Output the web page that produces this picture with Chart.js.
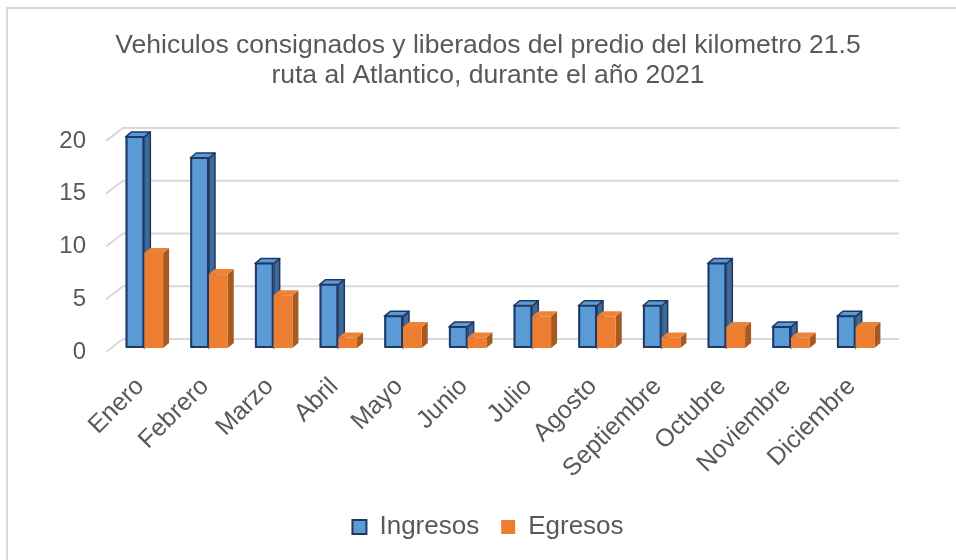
<!DOCTYPE html>
<html><head><meta charset="utf-8">
<script src="https://cdn.jsdelivr.net/npm/chart.js@4"></script>
<style>html,body{margin:0;padding:0;background:#fff}#wrap{width:956px;height:560px;position:relative}</style>
</head><body><div id="wrap"><canvas id="c" width="956" height="560"></canvas></div>
<script>
const categories = ['Enero','Febrero','Marzo','Abril','Mayo','Junio','Julio','Agosto','Septiembre','Octubre','Noviembre','Diciembre'];
const ingresos = [20,18,8,6,3,2,4,4,4,8,2,3];
const egresos = [9,7,5,1,2,1,3,3,1,2,1,2];
const yTicks = [0,5,10,15,20];
const seriesNames = ['Ingresos','Egresos'];
const titleLines = ['Vehiculos consignados y liberados del predio del kilometro 21.5','ruta al Atlantico, durante el año 2021'];

const TXT = '#595959';
const FONT = "'Liberation Sans', Arial, sans-serif";
const styles = [
  {front:'#5B9BD5', side:'#3E6A97', top:'#5B9BD5', stroke:'#1F3864', lw:2},
  {front:'#ED7D31', side:'#A65A22', top:'#EE8236', stroke:null, lw:0}
];
const DX = 6, DY = -5, SHIFT = 4;

const deco = {
  id:'deco',
  beforeDraw(chart){
    const ctx = chart.ctx;
    ctx.save();
    ctx.fillStyle = '#d9d9d9';
    ctx.fillRect(6, 7, 2, 560);
    ctx.fillRect(6, 7, 960, 2);
    ctx.restore();
  },
  beforeDatasetsDraw(chart){
    const {ctx, chartArea, scales:{y}} = chart;
    ctx.save();
    ctx.strokeStyle = '#d9d9d9'; ctx.lineWidth = 2;
    y.ticks.forEach(t => {
      const py = y.getPixelForValue(t.value);
      ctx.beginPath();
      ctx.moveTo(chartArea.left - 6, py);
      ctx.lineTo(chartArea.left + 11, py - 13);
      ctx.lineTo(chartArea.right + 11, py - 13);
      ctx.stroke();
    });
    const n = chart.data.labels.length;
    for (let j = 0; j < n; j++) {
      for (let i = 0; i < chart.data.datasets.length; i++) {
        const el = chart.getDatasetMeta(i).data[j];
        const s = styles[i];
        const l = el.x - el.width/2, r = el.x + el.width/2;
        const t = el.y - SHIFT, b = el.base - SHIFT;
        ctx.lineJoin = 'round';
        ctx.beginPath();
        ctx.moveTo(r, t); ctx.lineTo(r+DX, t+DY); ctx.lineTo(r+DX, b+DY); ctx.lineTo(r, b); ctx.closePath();
        ctx.fillStyle = s.side; ctx.fill();
        if (s.stroke) { ctx.strokeStyle = s.stroke; ctx.lineWidth = 1.5; ctx.stroke(); }
        ctx.beginPath();
        ctx.moveTo(l, t); ctx.lineTo(l+DX, t+DY); ctx.lineTo(r+DX, t+DY); ctx.lineTo(r, t); ctx.closePath();
        ctx.fillStyle = s.top; ctx.fill();
        if (s.stroke) { ctx.strokeStyle = s.stroke; ctx.lineWidth = 1.5; ctx.stroke(); }
        ctx.fillStyle = s.front;
        ctx.fillRect(l, t, r-l, b-t);
        if (s.stroke) { ctx.strokeStyle = s.stroke; ctx.lineWidth = s.lw; ctx.strokeRect(l+1, t, r-l-2, b-t-1); }
      }
    }
    ctx.restore();
    return false;
  }
};

new Chart(document.getElementById('c'), {
  type:'bar',
  data:{
    labels: categories,
    datasets:[
      {label:seriesNames[0], data:ingresos, backgroundColor:styles[0].front, borderColor:styles[0].stroke, borderWidth:2},
      {label:seriesNames[1], data:egresos, backgroundColor:styles[1].front, borderColor:styles[1].front, borderWidth:0}
    ]
  },
  options:{
    responsive:false,
    animation:false,
    devicePixelRatio:1,
    layout:{padding:{left:20, right:0, top:0, bottom:10}},
    categoryPercentage:0.58,
    barPercentage:1,
    plugins:{
      tooltip:{enabled:false},
      title:{display:true, text:titleLines, color:TXT, font:{family:FONT, size:26.5, weight:'normal', lineHeight:1.13}, padding:{top:31, bottom:50}},
      legend:{position:'bottom', labels:{color:TXT, font:{family:FONT, size:26}, boxWidth:14, boxHeight:14, padding:22}}
    },
    scales:{
      x:{
        grid:{display:false}, border:{display:false},
        ticks:{color:TXT, font:{family:FONT, size:25}, maxRotation:45, minRotation:45, padding:12, labelOffset:-4, autoSkip:false},
        afterFit(s){ s.height = 140; }
      },
      y:{
        min:0, max:20,
        grid:{display:false, drawTicks:false}, border:{display:false},
        ticks:{color:TXT, font:{family:FONT, size:24}, padding:26},
        afterBuildTicks(s){ s.ticks = yTicks.map(v => ({value:v})); },
        afterFit(s){ s.width = 92; }
      },
      yR:{
        position:'right', display:true,
        grid:{display:false, drawTicks:false}, border:{display:false},
        ticks:{display:false},
        afterFit(s){ s.width = 68; }
      }
    }
  },
  plugins:[deco]
});
</script></body></html>
